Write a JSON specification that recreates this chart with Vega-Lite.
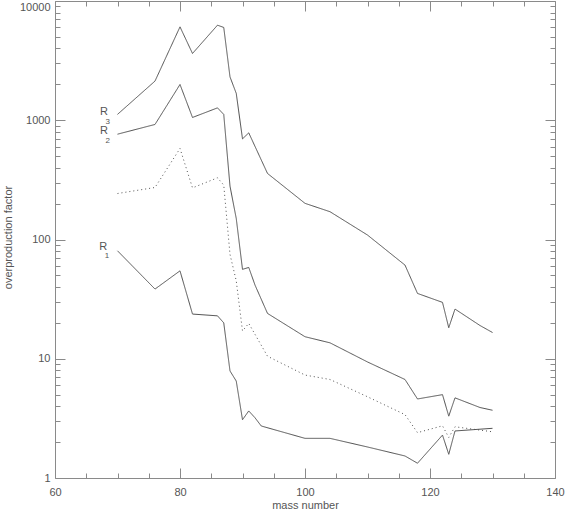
{
  "$schema": "https://vega.github.io/schema/vega-lite/v6.json",
  "width": 500,
  "height": 477,
  "autosize": {"type": "none"},
  "padding": {"left": 55, "top": 1, "right": 10, "bottom": 33},
  "background": "white",
  "config": {
    "view": {"stroke": "#8a8a8a", "strokeWidth": 1},
    "axis": {
      "labelFont": "Liberation Sans",
      "labelFontSize": 11,
      "labelColor": "#555555",
      "titleFont": "Liberation Sans",
      "titleFontSize": 11,
      "titleFontWeight": "normal",
      "titleColor": "#555555",
      "tickColor": "#8a8a8a",
      "tickWidth": 1,
      "domain": false,
      "grid": false
    }
  },
  "datasets": {
    "curves": [
      {"s": "R3", "a": 70, "f": 1120}, {"s": "R3", "a": 76, "f": 2130}, {"s": "R3", "a": 80, "f": 6070},
      {"s": "R3", "a": 82, "f": 3630}, {"s": "R3", "a": 86, "f": 6270}, {"s": "R3", "a": 87, "f": 6000},
      {"s": "R3", "a": 88, "f": 2310}, {"s": "R3", "a": 89, "f": 1680}, {"s": "R3", "a": 90, "f": 698},
      {"s": "R3", "a": 91, "f": 784}, {"s": "R3", "a": 94, "f": 358}, {"s": "R3", "a": 100, "f": 201},
      {"s": "R3", "a": 104, "f": 171}, {"s": "R3", "a": 110, "f": 109}, {"s": "R3", "a": 116, "f": 61},
      {"s": "R3", "a": 118, "f": 35.3}, {"s": "R3", "a": 122, "f": 29.7}, {"s": "R3", "a": 123, "f": 18.2},
      {"s": "R3", "a": 124, "f": 26.1}, {"s": "R3", "a": 128, "f": 19.0}, {"s": "R3", "a": 130, "f": 16.6},
      {"s": "R2", "a": 70, "f": 764}, {"s": "R2", "a": 76, "f": 922}, {"s": "R2", "a": 80, "f": 1995},
      {"s": "R2", "a": 82, "f": 1055}, {"s": "R2", "a": 86, "f": 1270}, {"s": "R2", "a": 87, "f": 1119},
      {"s": "R2", "a": 88, "f": 280}, {"s": "R2", "a": 89, "f": 150}, {"s": "R2", "a": 90, "f": 56.2},
      {"s": "R2", "a": 91, "f": 58.3}, {"s": "R2", "a": 92, "f": 41.5}, {"s": "R2", "a": 94, "f": 24},
      {"s": "R2", "a": 100, "f": 15.3}, {"s": "R2", "a": 104, "f": 13.6}, {"s": "R2", "a": 110, "f": 9.4},
      {"s": "R2", "a": 116, "f": 6.7}, {"s": "R2", "a": 118, "f": 4.6}, {"s": "R2", "a": 122, "f": 5.0},
      {"s": "R2", "a": 123, "f": 3.3}, {"s": "R2", "a": 124, "f": 4.7}, {"s": "R2", "a": 128, "f": 3.9},
      {"s": "R2", "a": 130, "f": 3.7},
      {"s": "D", "a": 70, "f": 243}, {"s": "D", "a": 76, "f": 273}, {"s": "D", "a": 80, "f": 580},
      {"s": "D", "a": 82, "f": 271}, {"s": "D", "a": 86, "f": 329}, {"s": "D", "a": 87, "f": 286},
      {"s": "D", "a": 88, "f": 75}, {"s": "D", "a": 89, "f": 45}, {"s": "D", "a": 90, "f": 17.1},
      {"s": "D", "a": 91, "f": 19.8}, {"s": "D", "a": 94, "f": 10.5}, {"s": "D", "a": 100, "f": 7.3},
      {"s": "D", "a": 104, "f": 6.7}, {"s": "D", "a": 110, "f": 4.8}, {"s": "D", "a": 116, "f": 3.4},
      {"s": "D", "a": 118, "f": 2.4}, {"s": "D", "a": 122, "f": 2.74}, {"s": "D", "a": 123, "f": 2.19},
      {"s": "D", "a": 124, "f": 2.69}, {"s": "D", "a": 130, "f": 2.44},
      {"s": "R1", "a": 70, "f": 80.4}, {"s": "R1", "a": 76, "f": 38.4}, {"s": "R1", "a": 80, "f": 54.6},
      {"s": "R1", "a": 82, "f": 23.7}, {"s": "R1", "a": 86, "f": 22.9}, {"s": "R1", "a": 87, "f": 20},
      {"s": "R1", "a": 88, "f": 7.9}, {"s": "R1", "a": 89, "f": 6.5}, {"s": "R1", "a": 90, "f": 3.08},
      {"s": "R1", "a": 91, "f": 3.65}, {"s": "R1", "a": 92, "f": 3.2}, {"s": "R1", "a": 93, "f": 2.73},
      {"s": "R1", "a": 100, "f": 2.15}, {"s": "R1", "a": 104, "f": 2.15}, {"s": "R1", "a": 110, "f": 1.82},
      {"s": "R1", "a": 116, "f": 1.53}, {"s": "R1", "a": 118, "f": 1.33}, {"s": "R1", "a": 122, "f": 2.29},
      {"s": "R1", "a": 123, "f": 1.58}, {"s": "R1", "a": 124, "f": 2.48}, {"s": "R1", "a": 130, "f": 2.61}
    ],
    "labels": [
      {"t": "R", "a": 67.84, "f": 1175, "k": "main"},
      {"t": "3", "a": 68.45, "f": 975, "k": "sub"},
      {"t": "R", "a": 67.84, "f": 811, "k": "main"},
      {"t": "2", "a": 68.42, "f": 672, "k": "sub"},
      {"t": "R", "a": 67.73, "f": 85.9, "k": "main"},
      {"t": "1", "a": 68.32, "f": 72.5, "k": "sub"}
    ]
  },
  "layer": [
    {
      "data": {"name": "curves"},
      "mark": {"type": "line", "color": "#505050", "strokeWidth": 1},
      "encoding": {
        "x": {"field": "a", "type": "quantitative",
              "scale": {"domain": [60, 140], "nice": false, "zero": false},
              "axis": {"orient": "bottom", "values": [60, 80, 100, 120, 140], "format": "d", "tickSize": -10, "labelPadding": 18, "title": "mass number", "titleX": 250, "titleY": 27, "titleBaseline": "middle", "labelFlush": false}},
        "y": {"field": "f", "type": "quantitative",
              "scale": {"type": "log", "domain": [1, 10000], "nice": false},
              "axis": {"orient": "left", "values": [1, 10, 100, 1000, 10000], "format": "d", "tickSize": -10, "labelPadding": 15, "title": "overproduction factor", "titleX": -47, "titleY": 236, "titleAngle": -90, "titleAlign": "center", "titleBaseline": "middle", "labelFlush": false,
                       "labelBaseline": {"condition": {"test": "datum.value >= 10000", "value": "top"}, "value": "middle"}}},
        "detail": {"field": "s"},
        "strokeDash": {"field": "s", "type": "nominal",
                       "scale": {"domain": ["R1", "R2", "R3", "D"], "range": [[1, 0], [1, 0], [1, 0], [1, 3]]},
                       "legend": null}
      }
    },
    {
      "data": {"name": "curves"},
      "mark": {"type": "point", "opacity": 0},
      "encoding": {
        "x": {"field": "a", "type": "quantitative",
              "scale": {"domain": [60, 140], "nice": false, "zero": false},
              "axis": {"orient": "bottom", "values": [65, 70, 75, 85, 90, 95, 105, 110, 115, 125, 130, 135], "tickSize": -5, "labels": false, "title": null}},
        "y": {"field": "f", "type": "quantitative",
              "scale": {"type": "log", "domain": [1, 10000], "nice": false},
              "axis": {"orient": "left", "values": [2,3,4,5,6,7,8,9,20,30,40,50,60,70,80,90,200,300,400,500,600,700,800,900,2000,3000,4000,5000,6000,7000,8000,9000], "tickSize": -5, "labels": false, "title": null}}
      }
    },
    {
      "data": {"name": "curves"},
      "mark": {"type": "point", "opacity": 0},
      "encoding": {
        "x": {"field": "a", "type": "quantitative",
              "scale": {"domain": [60, 140], "nice": false, "zero": false},
              "axis": {"orient": "top", "values": [60, 80, 100, 120, 140], "tickSize": -10, "labels": false, "title": null}},
        "y": {"field": "f", "type": "quantitative",
              "scale": {"type": "log", "domain": [1, 10000], "nice": false},
              "axis": {"orient": "right", "values": [1, 10, 100, 1000, 10000], "tickSize": -10, "labels": false, "title": null}}
      }
    },
    {
      "data": {"name": "curves"},
      "mark": {"type": "point", "opacity": 0},
      "encoding": {
        "x": {"field": "a", "type": "quantitative",
              "scale": {"domain": [60, 140], "nice": false, "zero": false},
              "axis": {"orient": "top", "values": [65, 70, 75, 85, 90, 95, 105, 110, 115, 125, 130, 135], "tickSize": -5, "labels": false, "title": null}},
        "y": {"field": "f", "type": "quantitative",
              "scale": {"type": "log", "domain": [1, 10000], "nice": false},
              "axis": {"orient": "right", "values": [2,3,4,5,6,7,8,9,20,30,40,50,60,70,80,90,200,300,400,500,600,700,800,900,2000,3000,4000,5000,6000,7000,8000,9000], "tickSize": -5, "labels": false, "title": null}}
      }
    },
    {
      "data": {"name": "labels"},
      "mark": {"type": "text", "font": "Liberation Sans", "color": "#555555", "align": "center", "baseline": "middle"},
      "encoding": {
        "x": {"field": "a", "type": "quantitative", "scale": {"domain": [60, 140], "nice": false, "zero": false}, "axis": null},
        "y": {"field": "f", "type": "quantitative", "scale": {"type": "log", "domain": [1, 10000], "nice": false}, "axis": null},
        "text": {"field": "t"},
        "size": {"field": "k", "type": "nominal", "scale": {"domain": ["main", "sub"], "range": [11, 8]}, "legend": null}
      }
    }
  ],
  "resolve": {"axis": {"x": "independent", "y": "independent"}}
}
